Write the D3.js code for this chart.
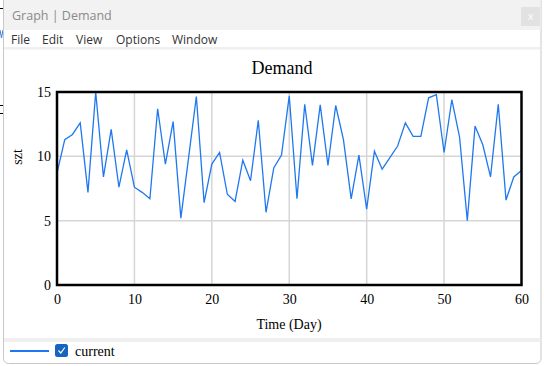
<!DOCTYPE html>
<html><head><meta charset="utf-8">
<script src="https://cdn.jsdelivr.net/npm/d3@7"></script>
<style>
html,body{margin:0;padding:0;background:#fff;overflow:hidden}
svg{display:block}
</style></head>
<body>
<svg id="c" width="544" height="366"></svg>
<script>
const windowTitle = "Graph | Demand";
const menuItems = ["File", "Edit", "View", "Options", "Window"];
const chartTitle = "Demand";
const yLabel = "szt";
const xLabel = "Time (Day)";
const seriesName = "current";
const days = d3.range(0, 61);
const demand = [8.7, 11.3, 11.7, 12.6, 7.2, 15.0, 8.4, 12.1, 7.6, 10.5,
  7.6, 7.2, 6.7, 13.7, 9.4, 12.7, 5.2, 9.9, 14.65, 6.4,
  9.4, 10.3, 7.05, 6.5, 9.7, 8.1, 12.8, 5.65, 9.1, 10.1,
  14.7, 6.7, 14.05, 9.3, 14.0, 9.3, 13.95, 11.3, 6.7, 10.1,
  5.9, 10.4, 9.0, 9.9, 10.8, 12.6, 11.55, 11.55, 14.55, 14.8,
  10.3, 14.4, 11.5, 5.0, 12.35, 10.9, 8.4, 14.05, 6.6, 8.4, 8.9];
const xTicks = [0, 10, 20, 30, 40, 50, 60];
const yTicks = [0, 5, 10, 15];

const svg = d3.select("#c");
const W = 544, H = 366;

// background window chrome
svg.append("rect").attr("x",0).attr("y",0).attr("width",W).attr("height",H).attr("fill","#fff");
// remnants of window behind
svg.append("line").attr("x1",0).attr("x2",4).attr("y1",8.5).attr("y2",8.5).attr("stroke","#000");
svg.append("line").attr("x1",0).attr("x2",4).attr("y1",105.5).attr("y2",105.5).attr("stroke","#000");
svg.append("line").attr("x1",0).attr("x2",4).attr("y1",113.5).attr("y2",113.5).attr("stroke","#000");
svg.append("path").attr("d","M0,30 L1.5,38 L3,30").attr("fill","none").attr("stroke","#3a7bd5").attr("stroke-width",1);

// window
svg.append("rect").attr("x",3.5).attr("y",-4).attr("width",537.5).attr("height",367.5)
  .attr("rx",5).attr("fill","#fff").attr("stroke","#c8c8c8");
svg.append("rect").attr("x",4).attr("y",0).attr("width",536.5).attr("height",30).attr("fill","#f2f2f2");
svg.append("text").attr("x",12).attr("y",20).text(windowTitle)
  .attr("font-family","'Open Sans', 'Noto Sans', sans-serif").attr("font-size",12.5).attr("fill","#8a8a8a");
svg.append("rect").attr("x",521).attr("y",7).attr("width",19).attr("height",19).attr("fill","#e2e2e2");
svg.append("text").attr("x",530.5).attr("y",20).attr("text-anchor","middle").text("x")
  .attr("font-family","'Open Sans', sans-serif").attr("font-size",10).attr("fill","#fff");

// menu
const menuX = [11, 42, 76, 116, 172];
svg.selectAll("text.menu").data(menuItems).join("text").attr("class","menu")
  .attr("x",(d,i)=>menuX[i]).attr("y",44).text(d=>d)
  .attr("font-family","'Open Sans', 'Noto Sans', sans-serif").attr("font-size",12).attr("fill","#333");
svg.append("rect").attr("x",4).attr("y",47).attr("width",536.5).attr("height",2.5).attr("fill","#efefef");

// chart
const L = 57, R = 521.5, T = 92, B = 285;
const x = d3.scaleLinear().domain([0, 60]).range([L, R]);
const y = d3.scaleLinear().domain([0, 15]).range([B, T]);
const serif = "'Liberation Serif', 'Times New Roman', serif";

const g = svg.append("g");
g.selectAll("line.gx").data(xTicks.slice(1, -1)).join("line").attr("class","gx")
  .attr("x1",d=>x(d)).attr("x2",d=>x(d)).attr("y1",T).attr("y2",B)
  .attr("stroke","#d6d6d6").attr("stroke-width",1.5);
g.selectAll("line.gy").data(yTicks.slice(1, -1)).join("line").attr("class","gy")
  .attr("x1",L).attr("x2",R).attr("y1",d=>y(d)).attr("y2",d=>y(d))
  .attr("stroke","#d6d6d6").attr("stroke-width",1.5);

const line = d3.line().x((d,i)=>x(days[i])).y(d=>y(d));
g.append("path").datum(demand).attr("d",line).attr("fill","none")
  .attr("stroke","#1f78f0").attr("stroke-width",1.3).attr("stroke-linejoin","miter");

g.append("rect").attr("x",L).attr("y",T).attr("width",R-L).attr("height",B-T)
  .attr("fill","none").attr("stroke","#000").attr("stroke-width",2.5);

const xAxis = d3.axisBottom(x).tickValues(xTicks).tickSize(0).tickPadding(9);
svg.append("g").attr("transform",`translate(0,${B})`).call(xAxis)
  .call(s=>s.select(".domain").remove())
  .selectAll("text").attr("font-family",serif).attr("font-size",14).attr("fill","#000");
const yAxis = d3.axisLeft(y).tickValues(yTicks).tickSize(0).tickPadding(6);
svg.append("g").attr("transform",`translate(${L},0)`).call(yAxis)
  .call(s=>s.select(".domain").remove())
  .selectAll("text").attr("font-family",serif).attr("font-size",14).attr("fill","#000");

svg.append("text").attr("x",282).attr("y",74).attr("text-anchor","middle").text(chartTitle)
  .attr("font-family",serif).attr("font-size",18).attr("fill","#000");
svg.append("text").attr("transform","translate(22,157) rotate(-90)").attr("text-anchor","middle").text(yLabel)
  .attr("font-family",serif).attr("font-size",14).attr("fill","#000");
svg.append("text").attr("x",289).attr("y",329).attr("text-anchor","middle").text(xLabel)
  .attr("font-family",serif).attr("font-size",14).attr("fill","#000");

// legend
svg.append("rect").attr("x",4).attr("y",338).attr("width",536.5).attr("height",4).attr("fill","#efefef");
svg.append("line").attr("x1",10).attr("x2",49).attr("y1",351).attr("y2",351).attr("stroke","#1f78f0").attr("stroke-width",2);
svg.append("rect").attr("x",55).attr("y",344).attr("width",13).attr("height",13).attr("rx",2.5).attr("fill","#1565c0");
svg.append("path").attr("d","M58.5,350.5 L60.8,353 L64.8,347.5").attr("fill","none").attr("stroke","#fff").attr("stroke-width",1.2);
svg.append("text").attr("x",75).attr("y",356).text(seriesName)
  .attr("font-family",serif).attr("font-size",14).attr("fill","#000");
</script>
</body></html>
